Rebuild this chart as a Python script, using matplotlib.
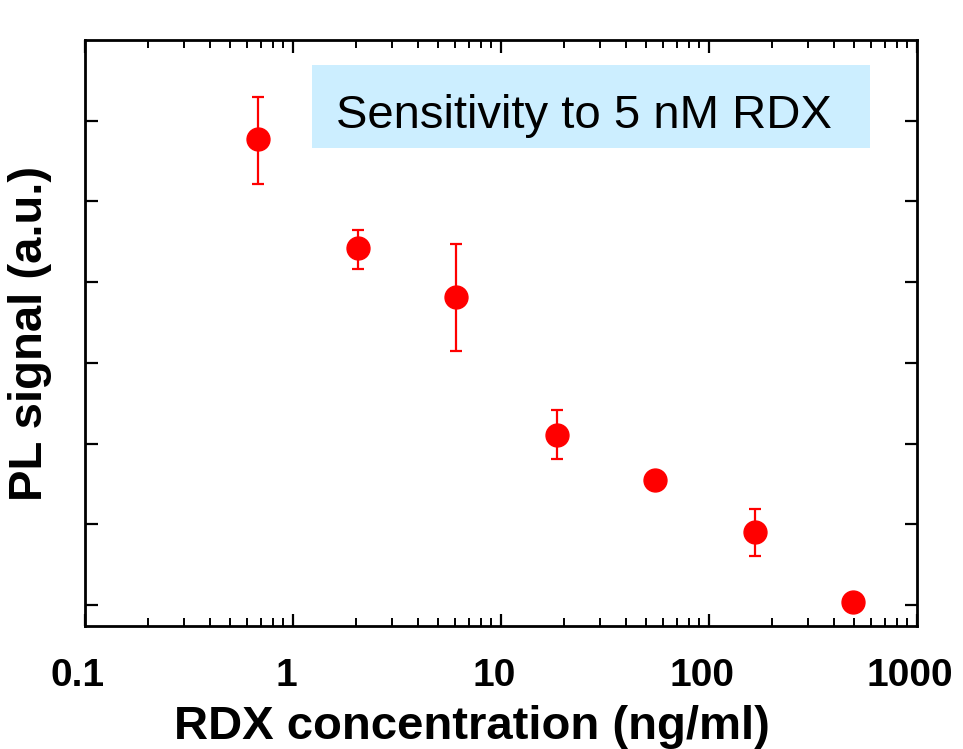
import numpy as np
import matplotlib
matplotlib.use("Agg")
import matplotlib.pyplot as plt
from matplotlib.patches import Rectangle
from matplotlib.transforms import ScaledTranslation
from matplotlib.ticker import LogLocator, NullFormatter, FixedLocator, NullLocator

plt.rcParams['font.family'] = ['Liberation Sans', 'DejaVu Sans']

# RDX concentration (ng/ml) and PL signal (arbitrary units)
conc = [0.68, 2.05, 6.1, 18.5, 55.0, 166.0, 495.0]
signal = [5.77, 4.42, 3.81, 2.11, 1.55, 0.91, 0.04]
err_up = [0.53, 0.23, 0.66, 0.30, 0.0, 0.28, 0.0]
err_down = [0.56, 0.26, 0.66, 0.30, 0.0, 0.30, 0.0]
has_err = [True, True, True, True, False, True, False]

x_ticks = [0.1, 1, 10, 100, 1000]
x_ticklabels = ["0.1", "1", "10", "100", "1000"]
y_ticks = [0, 1, 2, 3, 4, 5, 6]

W, H, DPI = 963, 749, 100
fig = plt.figure(figsize=(W / DPI, H / DPI), dpi=DPI)
ax = fig.add_axes([85 / W, 1 - 626 / H, (917 - 85) / W, (626 - 40) / H])

# points with error bars
ex = [c for c, e in zip(conc, has_err) if e]
ey = [s for s, e in zip(signal, has_err) if e]
eu = [u for u, e in zip(err_up, has_err) if e]
ed = [d for d, e in zip(err_down, has_err) if e]
ax.errorbar(ex, ey, yerr=[ed, eu], fmt='none', ecolor='#ff0000',
            elinewidth=1.6, capsize=4.5, capthick=1.6, zorder=2)
ax.plot(conc, signal, 'o', color='#ff0000', markersize=16.5, zorder=3)

ax.set_xscale('log')
ax.set_xlim(0.1, 1000)
ax.set_ylim(-0.26, 7.0)

ax.xaxis.set_major_locator(FixedLocator(x_ticks))
ax.set_xticklabels(x_ticklabels)
ax.xaxis.set_minor_locator(LogLocator(base=10, subs=np.arange(2, 10)))
ax.xaxis.set_minor_formatter(NullFormatter())
ax.yaxis.set_major_locator(FixedLocator(y_ticks))
ax.yaxis.set_minor_locator(NullLocator())
ax.set_yticklabels([])

ax.tick_params(axis='both', which='both', direction='in', top=True, right=True)
ax.tick_params(axis='both', which='major', length=9, width=1.6)
ax.tick_params(axis='x', which='minor', length=6, width=1.4)
ax.tick_params(axis='x', which='major', pad=23)
shift = ScaledTranslation(-7 / DPI, 0, fig.dpi_scale_trans)
for lab in ax.get_xticklabels():
    lab.set_fontsize(28)
    lab.set_fontweight('bold')
    lab.set_transform(lab.get_transform() + shift)

for sp in ax.spines.values():
    sp.set_linewidth(2)

ax.set_xlabel('RDX concentration (ng/ml)', fontsize=34, fontweight='bold')
ax.xaxis.set_label_coords(0.465, -0.135)
ax.set_ylabel('PL signal (a.u.)', fontsize=34, fontweight='bold')
ax.yaxis.set_label_coords(-0.04, 0.5)

# annotation box
ax.add_patch(Rectangle((0.273, 0.816), 0.6705, 0.1416, transform=ax.transAxes,
                       facecolor='#cceeff', edgecolor='none', zorder=1))
ax.text(0.5995, 0.8498, 'Sensitivity to 5 nM RDX', transform=ax.transAxes,
        fontsize=34, ha='center', va='baseline', color='black', zorder=4)

fig.savefig('out.png', dpi=DPI)
